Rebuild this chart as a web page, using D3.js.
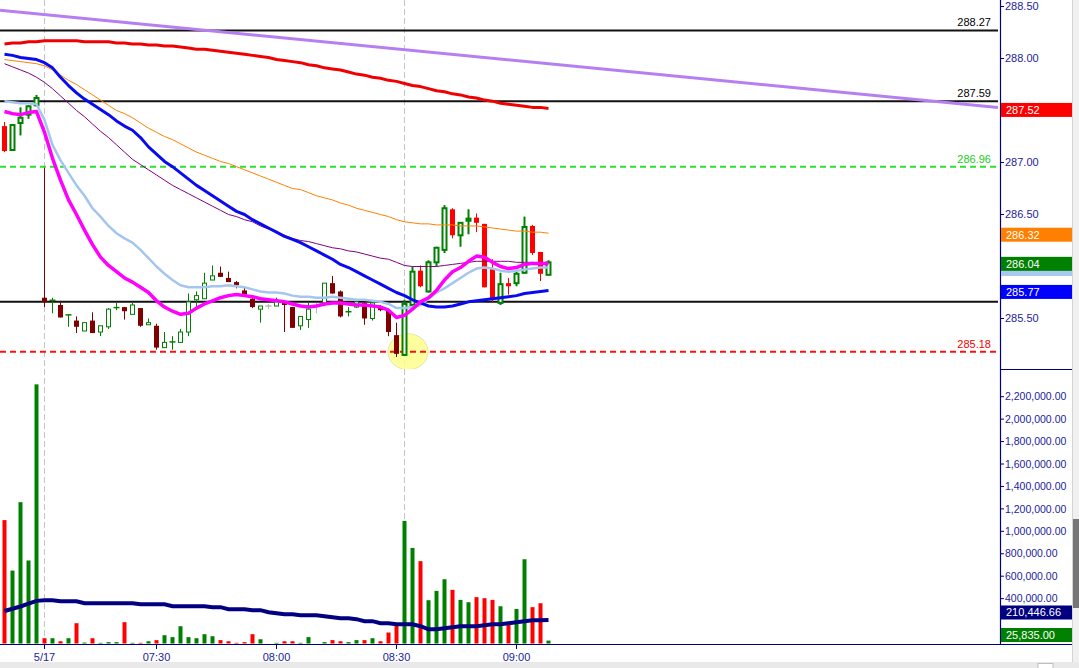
<!DOCTYPE html>
<html><head><meta charset="utf-8">
<script src="https://cdn.jsdelivr.net/npm/d3@7"></script>
<style>
html,body{margin:0;padding:0;background:#fff;overflow:hidden}
svg{display:block;font-family:"Liberation Sans",Arial,sans-serif}
</style>
</head><body>
<svg id="c" width="1079" height="668"></svg>
<script>
// ---------------- DATA ----------------
const categories = [
 "15:06","15:08","15:10","15:12","15:14",
 "07:02","07:04","07:06","07:08","07:10","07:12","07:14","07:16","07:18","07:20",
 "07:22","07:24","07:26","07:28","07:30","07:32","07:34","07:36","07:38","07:40",
 "07:42","07:44","07:46","07:48","07:50","07:52","07:54","07:56","07:58","08:00",
 "08:02","08:04","08:06","08:08","08:10","08:12","08:14","08:16","08:18","08:20",
 "08:22","08:24","08:26","08:28","08:30","08:32","08:34","08:36","08:38","08:40",
 "08:42","08:44","08:46","08:48","08:50","08:52","08:54","08:56","08:58","09:00",
 "09:02","09:04","09:06","09:08"];
const prevDayCount = 5;          // bars from the prior session
const dayBreak = "07:02";        // first bar of 5/17
const sessionOpen = "08:32";     // first bar of regular session

const open = [287.35,287.12,287.38,287.46,287.55,
 285.70,285.67,285.63,285.53,285.48,285.38,285.48,285.37,285.42,285.60,
 285.61,285.54,285.60,285.44,285.43,285.22,285.27,285.27,285.37,285.68,
 285.69,285.87,285.94,285.89,285.85,285.77,285.69,285.59,285.62,285.62,
 285.66,285.61,285.43,285.49,285.62,285.65,285.84,285.76,285.56,285.61,
 285.65,285.50,285.62,285.58,285.34,285.15,285.63,285.96,285.76,286.04,
 286.16,286.55,286.30,286.44,286.47,286.41,285.98,285.65,285.84,285.84,
 285.94,286.39,286.14,285.92];
const high = [287.39,287.37,287.53,287.55,287.65,
 286.95,285.70,285.67,285.54,285.52,285.46,285.56,285.43,285.60,285.65,
 285.61,285.65,285.60,285.50,285.45,285.37,285.33,285.40,285.74,285.76,
 285.94,286.01,286.00,285.95,285.86,285.80,285.70,285.62,285.64,285.70,
 285.66,285.61,285.52,285.65,285.65,285.84,285.91,285.77,285.61,285.68,
 285.67,285.67,285.63,285.58,285.46,285.68,286.00,286.01,286.06,286.19,
 286.59,286.56,286.42,286.55,286.51,286.41,286.07,285.94,285.89,285.95,
 286.48,286.40,286.14,286.06];
const low = [287.10,287.11,287.26,287.42,287.54,
 285.61,285.55,285.51,285.42,285.36,285.38,285.36,285.33,285.40,285.58,
 285.49,285.54,285.42,285.44,285.20,285.22,285.20,285.27,285.33,285.61,
 285.69,285.87,285.90,285.85,285.79,285.72,285.60,285.46,285.59,285.62,
 285.37,285.41,285.39,285.41,285.55,285.62,285.74,285.51,285.52,285.60,
 285.44,285.48,285.57,285.33,285.13,285.14,285.63,285.80,285.75,286.00,
 286.13,286.27,286.19,286.31,286.33,285.80,285.66,285.63,285.73,285.81,
 285.93,286.11,285.86,285.92];
const close = [287.11,287.36,287.43,287.54,287.62,
 285.66,285.68,285.51,285.54,285.42,285.46,285.36,285.43,285.59,285.61,
 285.57,285.63,285.43,285.46,285.22,285.27,285.28,285.37,285.66,285.72,
 285.84,285.91,285.90,285.85,285.82,285.73,285.61,285.62,285.62,285.66,
 285.63,285.41,285.52,285.59,285.62,285.84,285.74,285.52,285.57,285.66,
 285.50,285.65,285.58,285.37,285.16,285.64,285.95,285.81,286.04,286.18,
 286.56,286.30,286.42,286.46,286.42,285.80,285.68,285.83,285.81,285.93,
 286.38,286.13,285.93,286.04];

const maRed = [288.14,288.15,288.15,288.16,288.16,
 288.17,288.17,288.17,288.17,288.17,288.16,288.16,288.16,288.16,288.15,
 288.15,288.14,288.14,288.13,288.13,288.12,288.12,288.11,288.10,288.09,
 288.09,288.08,288.07,288.06,288.05,288.04,288.03,288.02,288.01,287.99,
 287.98,287.97,287.96,287.94,287.93,287.91,287.90,287.89,287.87,287.85,
 287.84,287.82,287.81,287.79,287.78,287.76,287.74,287.73,287.71,287.69,
 287.68,287.66,287.65,287.63,287.62,287.60,287.59,287.57,287.56,287.55,
 287.54,287.53,287.53,287.52];
const maBlue = [288.04,288.03,288.01,288.00,287.99,
 287.96,287.91,287.82,287.74,287.67,287.61,287.56,287.51,287.46,287.40,
 287.35,287.31,287.24,287.15,287.08,287.01,286.96,286.90,286.84,286.78,
 286.73,286.68,286.63,286.58,286.53,286.50,286.45,286.41,286.37,286.33,
 286.29,286.26,286.23,286.19,286.15,286.11,286.07,286.02,285.99,285.95,
 285.91,285.87,285.83,285.79,285.75,285.72,285.68,285.65,285.62,285.61,
 285.61,285.62,285.64,285.66,285.67,285.68,285.69,285.70,285.71,285.72,
 285.74,285.75,285.76,285.77];
const maOrange = [287.99,287.98,287.97,287.96,287.95,
 287.93,287.89,287.84,287.79,287.75,287.70,287.65,287.60,287.55,287.50,
 287.47,287.43,287.38,287.33,287.29,287.25,287.22,287.18,287.14,287.10,
 287.07,287.04,287.01,286.99,286.96,286.93,286.90,286.87,286.84,286.81,
 286.78,286.75,286.74,286.71,286.68,286.66,286.64,286.61,286.59,286.56,
 286.54,286.52,286.50,286.48,286.45,286.43,286.42,286.41,286.41,286.40,
 286.40,286.40,286.39,286.39,286.39,286.38,286.37,286.36,286.35,286.34,
 286.34,286.33,286.33,286.32];
const maPurple = [287.95,287.92,287.89,287.86,287.82,
 287.77,287.71,287.64,287.57,287.50,287.44,287.37,287.30,287.24,287.17,
 287.10,287.03,286.98,286.93,286.88,286.83,286.78,286.74,286.70,286.66,
 286.62,286.58,286.54,286.50,286.48,286.45,286.43,286.39,286.36,286.33,
 286.30,286.27,286.25,286.24,286.22,286.20,286.18,286.17,286.15,286.14,
 286.12,286.10,286.08,286.07,286.04,286.01,286.00,286.00,286.00,286.00,
 286.01,286.02,286.03,286.04,286.05,286.05,286.05,286.05,286.05,286.04,
 286.04,286.04,286.03,286.03];
const maLightBlue = [287.59,287.58,287.57,287.57,287.56,
 287.41,287.17,287.02,286.90,286.78,286.68,286.56,286.48,286.39,286.32,
 286.27,286.23,286.16,286.08,286.00,285.93,285.87,285.82,285.80,285.80,
 285.80,285.81,285.81,285.82,285.81,285.80,285.78,285.76,285.75,285.75,
 285.74,285.72,285.71,285.71,285.70,285.70,285.71,285.70,285.69,285.68,
 285.68,285.67,285.66,285.64,285.60,285.60,285.61,285.63,285.69,285.75,
 285.79,285.84,285.89,285.94,285.98,285.99,285.98,285.96,285.95,285.96,
 285.97,285.98,285.99,285.99];
const maMagenta = [287.49,287.47,287.46,287.48,287.49,
 287.29,287.04,286.83,286.64,286.50,286.35,286.21,286.09,286.01,285.95,
 285.89,285.85,285.80,285.75,285.67,285.61,285.57,285.54,285.55,285.60,
 285.64,285.67,285.70,285.72,285.73,285.72,285.71,285.69,285.68,285.67,
 285.66,285.64,285.62,285.61,285.62,285.64,285.65,285.65,285.64,285.63,
 285.63,285.62,285.61,285.58,285.51,285.53,285.59,285.66,285.70,285.77,
 285.87,285.95,285.99,286.05,286.10,286.09,286.04,286.00,285.98,285.99,
 286.02,286.03,286.03,286.03];

const volume = [1100000,650000,1260000,740000,2310000,
 47000,47000,20000,47000,181000,8000,47000,6000,12000,12000,
 190000,6000,6000,20000,30000,74000,57000,154000,57000,47000,
 83000,65000,30000,20000,6000,12000,83000,38000,0,6000,
 20000,20000,6000,57000,0,12000,30000,20000,12000,30000,
 30000,47000,20000,98000,181000,1093000,852000,734000,386000,469000,
 573000,478000,389000,368000,413000,404000,389000,332000,172000,308000,
 751000,324000,359000,25835];
const volumeMA = [290000,310000,330000,355000,380000,
 386000,386000,377000,377000,377000,359000,359000,359000,359000,359000,
 359000,359000,350000,350000,350000,350000,332000,332000,332000,332000,
 332000,324000,324000,306000,306000,306000,297000,297000,279000,270000,
 261000,261000,252000,252000,252000,243000,234000,225000,225000,217000,
 199000,199000,181000,181000,172000,172000,172000,154000,127000,127000,
 136000,145000,154000,154000,154000,163000,172000,172000,181000,190000,
 199000,208000,208000,210446.66];

const levels = [288.27, 287.59, 286.96, 285.66, 285.18];
const levelLabels = ["288.27", "287.59", "286.96", "", "285.18"];
const trendAnchors = [{cat: "15:06", price: 288.46}, {cat: "09:08", price: 287.95}];
const marker = {from: "08:32", to: "08:34", price: 285.18};

const priceTicks = [288.5, 288.0, 287.0, 286.5, 285.5];
const volumeTicks = [2200000, 2000000, 1800000, 1600000, 1400000, 1200000, 1000000, 800000, 600000, 400000];
const timeTickCats = ["07:02", "07:30", "08:00", "08:30", "09:00"];
const timeTickLabels = ["5/17", "07:30", "08:00", "08:30", "09:00"];

// ---------------- STYLES / LAYOUT ----------------
const plotRight = 998, axisX = 1000, axisRight = 1072;
const priceBottom = 369, volBottom = 644;
const levelStyle = [
  {stroke: "#111", dash: null, text: "#000"},
  {stroke: "#111", dash: null, text: "#000"},
  {stroke: "#2ee02e", dash: "6,4", text: "#22cc22"},
  {stroke: "#111", dash: null, text: "#000"},
  {stroke: "#ff1010", dash: "6,4", text: "#ee0000"}
];
const axisCol = "#000080", tickTextCol = "#1c1c9c";

const svg = d3.select("#c");
const x = d3.scalePoint().domain(categories).range([4, 548]);
const yP = d3.scaleLinear().domain([285, 288.5]).range([370.5, 6.5]);
const yV = d3.scaleLinear().domain([0, 2200000]).range([643.5, 396.7]);

const defs = svg.append("defs");
defs.append("clipPath").attr("id", "cp").append("rect").attr("x", 0).attr("y", 0).attr("width", plotRight).attr("height", priceBottom);
defs.append("clipPath").attr("id", "cv").append("rect").attr("x", 0).attr("y", 370).attr("width", plotRight).attr("height", volBottom - 370);

// window chrome strips
svg.append("rect").attr("x", axisRight).attr("y", 0).attr("width", 1079 - axisRight).attr("height", 668).attr("fill", "#f0f0f0");
svg.append("line").attr("x1", axisRight + 0.5).attr("x2", axisRight + 0.5).attr("y1", 0).attr("y2", 662).attr("stroke", "#d4d4d4");
svg.append("rect").attr("x", 1073).attr("y", 519).attr("width", 6).attr("height", 89).attr("fill", "#767676");
svg.append("rect").attr("x", 0).attr("y", 662).attr("width", 1079).attr("height", 6).attr("fill", "#e9e9e9");
svg.append("rect").attr("x", 1038).attr("y", 663.5).attr("width", 15).attr("height", 5).attr("fill", "#fff").attr("stroke", "#bdbdbd");

const bars = categories.map((c, k) => ({c, k, o: open[k], h: high[k], l: low[k], cl: close[k], v: volume[k]}));
const openIdx = categories.indexOf(sessionOpen);
const isThick = k => k < prevDayCount || k >= openIdx;
const dir = b => b.cl > b.o ? 1 : (b.cl < b.o ? -1 : 0);
const candleColor = b => dir(b) > 0 ? "#008000" : dir(b) < 0 ? (isThick(b.k) ? "#ff0000" : "#800000") : "#b8b8b8";
const volColor = b => dir(b) > 0 ? "#008000" : dir(b) < 0 ? "#ff0000" : "#b8b8b8";

// vertical dashed separators (both panels) - drawn beneath everything
[dayBreak, sessionOpen].forEach(c => {
  svg.append("line").attr("x1", x(c) + 0.5).attr("x2", x(c) + 0.5).attr("y1", 0).attr("y2", volBottom)
    .attr("stroke", "#c4c4c4").attr("stroke-width", 1).attr("stroke-dasharray", "6,3");
});

// ---------------- PRICE PANEL ----------------
const gp = svg.append("g").attr("clip-path", "url(#cp)");

// yellow marker ellipse
gp.append("ellipse")
  .attr("cx", (x(marker.from) + x(marker.to)) / 2).attr("cy", yP(marker.price))
  .attr("rx", 20).attr("ry", 18)
  .attr("fill", "#ffff8c").attr("fill-opacity", 0.85).attr("stroke", "#e4e4a8");

// horizontal levels
levels.forEach((lv, k) => {
  const st = levelStyle[k];
  const ln = gp.append("line").attr("x1", 0).attr("x2", plotRight).attr("y1", yP(lv)).attr("y2", yP(lv))
    .attr("stroke", st.stroke).attr("stroke-width", 2);
  if (st.dash) ln.attr("stroke-dasharray", st.dash);
  if (levelLabels[k]) {
    svg.append("text").attr("x", 991).attr("y", yP(lv) - 4).attr("text-anchor", "end")
      .attr("font-size", 11).attr("fill", st.text).text(levelLabels[k]);
  }
});

// candles
const cg = gp.append("g");
bars.forEach(b => {
  const cx = x(b.c), col = candleColor(b), d = dir(b), thick = isThick(b.k);
  cg.append("line").attr("x1", cx + 0.5).attr("x2", cx + 0.5).attr("y1", yP(b.h)).attr("y2", yP(b.l))
    .attr("stroke", col).attr("stroke-width", (d > 0 && thick) ? 2 : 1);
  const top = yP(Math.max(b.o, b.cl)), bot = yP(Math.min(b.o, b.cl));
  const hgt = bot - top;
  if (d === 0 || hgt < 2) {
    cg.append("line").attr("x1", cx - 2.5).attr("x2", cx + 3.5).attr("y1", (top + bot) / 2).attr("y2", (top + bot) / 2)
      .attr("stroke", col).attr("stroke-width", thick ? 2 : 1.5);
  } else if (d > 0) {
    const sw = thick ? 2 : 1;
    cg.append("rect").attr("x", cx - 1.5).attr("width", 4).attr("y", top).attr("height", hgt)
      .attr("fill", "#fff").attr("stroke", col).attr("stroke-width", sw);
  } else {
    cg.append("rect").attr("x", cx - 2).attr("width", 5).attr("y", top).attr("height", hgt).attr("fill", col);
  }
});

// moving averages
const mkLine = (arr, yS) => d3.line().x((v, k) => x(categories[k]) + 0.5).y(v => yS(v))(arr);
const maDefs = [
  {data: maOrange, color: "#ff8000", w: 1},
  {data: maPurple, color: "#800080", w: 1},
  {data: maLightBlue, color: "#a4c6ee", w: 2.5},
  {data: maBlue, color: "#0a0af0", w: 3},
  {data: maRed, color: "#f00000", w: 3},
  {data: maMagenta, color: "#ff00ff", w: 3.5}
];
maDefs.forEach(m => {
  gp.append("path").attr("d", mkLine(m.data, yP)).attr("fill", "none")
    .attr("stroke", m.color).attr("stroke-width", m.w).attr("stroke-linejoin", "round");
});

// trend line (extended to plot edges)
{
  const x1 = x(trendAnchors[0].cat), y1 = yP(trendAnchors[0].price);
  const x2 = x(trendAnchors[1].cat), y2 = yP(trendAnchors[1].price);
  const s = (y2 - y1) / (x2 - x1);
  gp.append("line").attr("x1", 0).attr("y1", y1 + s * (0 - x1)).attr("x2", plotRight).attr("y2", y1 + s * (plotRight - x1))
    .attr("stroke", "#b67ff0").attr("stroke-width", 3);
}

// ---------------- VOLUME PANEL ----------------
const gv = svg.append("g").attr("clip-path", "url(#cv)");
bars.forEach(b => {
  if (b.v <= 0) return;
  gv.append("rect").attr("x", x(b.c) - 1.5).attr("width", 4)
    .attr("y", yV(b.v)).attr("height", yV(0) - yV(b.v)).attr("fill", volColor(b));
});
gv.append("path").attr("d", mkLine(volumeMA, yV)).attr("fill", "none")
  .attr("stroke", "#000080").attr("stroke-width", 4);

// ---------------- AXES ----------------
svg.append("line").attr("x1", axisX + 0.5).attr("x2", axisX + 0.5).attr("y1", 0).attr("y2", volBottom + 0.5)
  .attr("stroke", axisCol).attr("stroke-width", 1.2);
svg.append("line").attr("x1", axisX).attr("x2", axisRight).attr("y1", priceBottom + 0.5).attr("y2", priceBottom + 0.5)
  .attr("stroke", axisCol);
svg.append("line").attr("x1", 0).attr("x2", axisRight).attr("y1", volBottom + 0.5).attr("y2", volBottom + 0.5)
  .attr("stroke", axisCol).attr("stroke-width", 1.2);

const fmtP = d3.format(".2f"), fmtV = d3.format(",.2f");
priceTicks.forEach(t => {
  svg.append("line").attr("x1", axisX).attr("x2", axisX + 4).attr("y1", yP(t)).attr("y2", yP(t)).attr("stroke", axisCol);
  svg.append("text").attr("x", axisX + 5).attr("y", yP(t)).attr("dy", "0.35em").attr("font-size", 11)
    .attr("fill", tickTextCol).text(fmtP(t));
});
volumeTicks.forEach(t => {
  svg.append("line").attr("x1", axisX).attr("x2", axisX + 4).attr("y1", yV(t)).attr("y2", yV(t)).attr("stroke", axisCol);
  svg.append("text").attr("x", axisX + 5).attr("y", yV(t)).attr("dy", "0.35em").attr("font-size", 10.5)
    .attr("fill", tickTextCol).text(fmtV(t));
});
timeTickCats.forEach((c, k) => {
  svg.append("line").attr("x1", x(c) + 0.5).attr("x2", x(c) + 0.5).attr("y1", volBottom).attr("y2", volBottom + 5).attr("stroke", axisCol);
  svg.append("text").attr("x", x(c) + 0.5).attr("y", 657).attr("dy", "0.35em").attr("text-anchor", "middle")
    .attr("font-size", 11).attr("fill", tickTextCol).text(timeTickLabels[k]);
});

// value tags
function tag(yc, bg, txt) {
  svg.append("rect").attr("x", axisX + 1).attr("y", yc - 7).attr("width", axisRight - axisX - 1).attr("height", 14).attr("fill", bg);
  if (txt) {
    svg.append("text").attr("x", axisX + 6).attr("y", yc).attr("dy", "0.36em").attr("font-size", 11)
      .attr("fill", "#fff").text(txt);
  }
}
const last = a => a[a.length - 1];
// light-blue tag sits underneath the close tag; only its lower edge shows
tag(yP(last(maLightBlue)) + 1.5, "#a8c8ee", null);
tag(yP(last(close)) + 1.5, "#008000", fmtP(last(close)));
tag(yP(last(maRed)) + 1.5, "#ff0000", fmtP(last(maRed)));
tag(yP(last(maOrange)) + 1.5, "#ff8000", fmtP(last(maOrange)));
tag(yP(last(maBlue)) + 1.5, "#0000ff", fmtP(last(maBlue)));

const gC = Math.min(yV(last(volume)), volBottom - 9);
const nC = Math.min(yV(last(volumeMA)), gC - 22.5);
tag(nC, "#000080", fmtV(last(volumeMA)));
tag(gC, "#008000", fmtV(last(volume)));
</script>
</body></html>
